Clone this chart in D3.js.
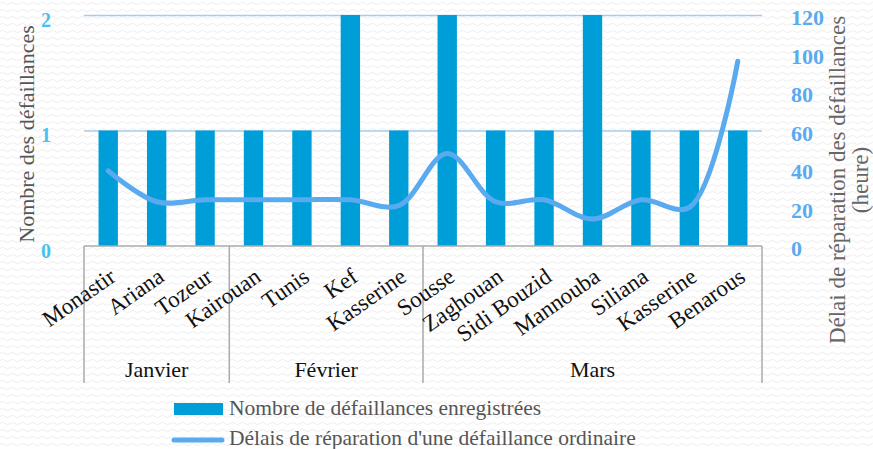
<!DOCTYPE html>
<html>
<head>
<meta charset="utf-8">
<script src="https://cdn.jsdelivr.net/npm/d3@7/dist/d3.min.js"></script>
<style>
  html, body { margin: 0; padding: 0; background: #fff; }
  svg { display: block; }
  text { font-family: "Liberation Serif", "DejaVu Serif", serif; }
</style>
</head>
<body>
<svg id="chart" width="873" height="449"></svg>
<script>
// Failures per governorate, grouped by month (Jan – Mar)
const categories = ["Monastir", "Ariana", "Tozeur", "Kairouan", "Tunis", "Kef", "Kasserine",
                    "Sousse", "Zaghouan", "Sidi Bouzid", "Mannouba", "Siliana", "Kasserine", "Benarous"];
const months = [
  { name: "Janvier", count: 3 },
  { name: "Février", count: 4 },
  { name: "Mars", count: 7 }
];
const failures = [1, 1, 1, 1, 1, 2, 1, 2, 1, 1, 2, 1, 1, 1];
const repairHours = [39, 23, 24, 24, 24, 24, 21, 48, 23, 24, 14, 24, 20, 96];
const leftTicks = [0, 1, 2];
const rightTicks = [0, 20, 40, 60, 80, 100, 120];

const legendBars = "Nombre de défaillances enregistrées";
const legendLine = "Délais de réparation d'une défaillance ordinaire";
const leftTitle = "Nombre des défaillances";
const rightTitle = ["Délai de réparation des défaillances", "(heure)"];

const svg = d3.select("#chart");
const plot = { left: 84, right: 762, top: 15, bottom: 246 };

// Light wavy paper texture
const defs = svg.append("defs");
const pat = defs.append("pattern")
  .attr("id", "waves").attr("patternUnits", "userSpaceOnUse")
  .attr("width", 10).attr("height", 7);
pat.append("rect").attr("width", 10).attr("height", 7).attr("fill", "#ffffff");
pat.append("path").attr("d", "M0 3.5 Q2.5 1 5 3.5 T10 3.5")
  .attr("fill", "none").attr("stroke", "#eeeeee").attr("stroke-width", 1);
svg.append("rect").attr("width", 873).attr("height", 449).attr("fill", "url(#waves)");

const x = d3.scaleBand()
  .domain(d3.range(categories.length))
  .range([plot.left, plot.right])
  .paddingInner(0.6).paddingOuter(0.3);
const yL = d3.scaleLinear().domain([0, 2]).range([plot.bottom, plot.top]);
const yR = d3.scaleLinear().domain([0, 120]).range([plot.bottom, plot.top]);
const step = x.step();
const cx = i => x(i) + x.bandwidth() / 2;

// Gridlines
svg.append("g")
  .attr("transform", `translate(${plot.left},0)`)
  .call(d3.axisLeft(yL).tickValues(leftTicks.filter(v => v > 0))
    .tickSize(-(plot.right - plot.left)).tickFormat(""))
  .call(g => g.select(".domain").remove())
  .call(g => g.selectAll(".tick line").attr("stroke", "#a9cbe9").attr("stroke-width", 1.5));

// Bars
svg.append("g").selectAll("rect")
  .data(failures)
  .join("rect")
  .attr("x", (d, i) => x(i))
  .attr("y", d => yL(d))
  .attr("width", x.bandwidth())
  .attr("height", d => yL(0) - yL(d))
  .attr("fill", "#009ed8");

// Repair delay line
const line = d3.line()
  .x((d, i) => cx(i))
  .y(d => yR(d))
  .curve(d3.curveCatmullRom.alpha(0.5));
svg.append("path")
  .datum(repairHours)
  .attr("d", line)
  .attr("fill", "none")
  .attr("stroke", "#5aaaf0")
  .attr("stroke-width", 5)
  .attr("stroke-linecap", "round");

// Category axis line
svg.append("line")
  .attr("x1", plot.left).attr("x2", plot.right)
  .attr("y1", plot.bottom).attr("y2", plot.bottom)
  .attr("stroke", "#aaaaaa").attr("stroke-width", 1.5);

// Month group separators and labels
let acc = 0;
const bounds = [0];
months.forEach(m => { acc += m.count; bounds.push(acc); });
svg.append("g").selectAll("line")
  .data(bounds)
  .join("line")
  .attr("x1", b => plot.left + b * step).attr("x2", b => plot.left + b * step)
  .attr("y1", plot.bottom).attr("y2", 383)
  .attr("stroke", "#aaaaaa").attr("stroke-width", 1.5);
svg.append("g").selectAll("text")
  .data(months)
  .join("text")
  .attr("x", (m, i) => plot.left + (bounds[i] + bounds[i + 1]) / 2 * step)
  .attr("y", 377)
  .attr("text-anchor", "middle")
  .attr("font-size", 22)
  .attr("fill", "#111")
  .text(m => m.name);

// Rotated category labels
svg.append("g").selectAll("text")
  .data(categories)
  .join("text")
  .attr("transform", (d, i) => `translate(${cx(i) + 9},${280}) rotate(-35)`)
  .attr("text-anchor", "end")
  .attr("font-size", 23)
  .attr("fill", "#111")
  .text(d => d);

// Left value axis
svg.append("g")
  .attr("transform", `translate(56,0)`)
  .call(d3.axisLeft(yL).tickValues(leftTicks).tickSize(0).tickFormat(d3.format("d")))
  .call(g => g.select(".domain").remove())
  .call(g => g.selectAll("text")
    .attr("x", -10).attr("dy", "0.55em")
    .attr("text-anchor", "middle")
    .attr("font-family", "Liberation Serif, serif")
    .attr("font-size", 20).attr("font-weight", "bold")
    .attr("fill", "#45c2f2"));

// Right value axis
svg.append("g")
  .attr("transform", `translate(791,0)`)
  .call(d3.axisRight(yR).tickValues(rightTicks).tickSize(0).tickFormat(d3.format("d")))
  .call(g => g.select(".domain").remove())
  .call(g => g.selectAll("text")
    .attr("x", 0).attr("dy", "0.45em")
    .attr("font-family", "Liberation Serif, serif")
    .attr("font-size", 22).attr("font-weight", "bold")
    .attr("fill", "#5aaaf0"));

// Axis titles
svg.append("text")
  .attr("transform", "translate(34,134) rotate(-90)")
  .attr("text-anchor", "middle")
  .attr("font-size", 22)
  .attr("fill", "#555")
  .text(leftTitle);
svg.append("text")
  .attr("transform", "translate(845,180) rotate(-90)")
  .attr("text-anchor", "middle")
  .attr("font-size", 23)
  .attr("fill", "#666")
  .selectAll("tspan")
  .data(rightTitle)
  .join("tspan")
  .attr("x", 0)
  .attr("dy", (d, i) => i === 0 ? 0 : "1.0em")
  .text(d => d);

// Legend
const lg = svg.append("g");
lg.append("rect").attr("x", 174).attr("y", 403).attr("width", 49).attr("height", 12).attr("fill", "#009ed8");
lg.append("text").attr("x", 229).attr("y", 415).attr("font-size", 21.5).attr("fill", "#555").text(legendBars);
lg.append("line").attr("x1", 174).attr("x2", 222).attr("y1", 440).attr("y2", 440)
  .attr("stroke", "#5aaaf0").attr("stroke-width", 5).attr("stroke-linecap", "round");
lg.append("text").attr("x", 229).attr("y", 445).attr("font-size", 21.5).attr("fill", "#555").text(legendLine);
</script>
</body>
</html>
